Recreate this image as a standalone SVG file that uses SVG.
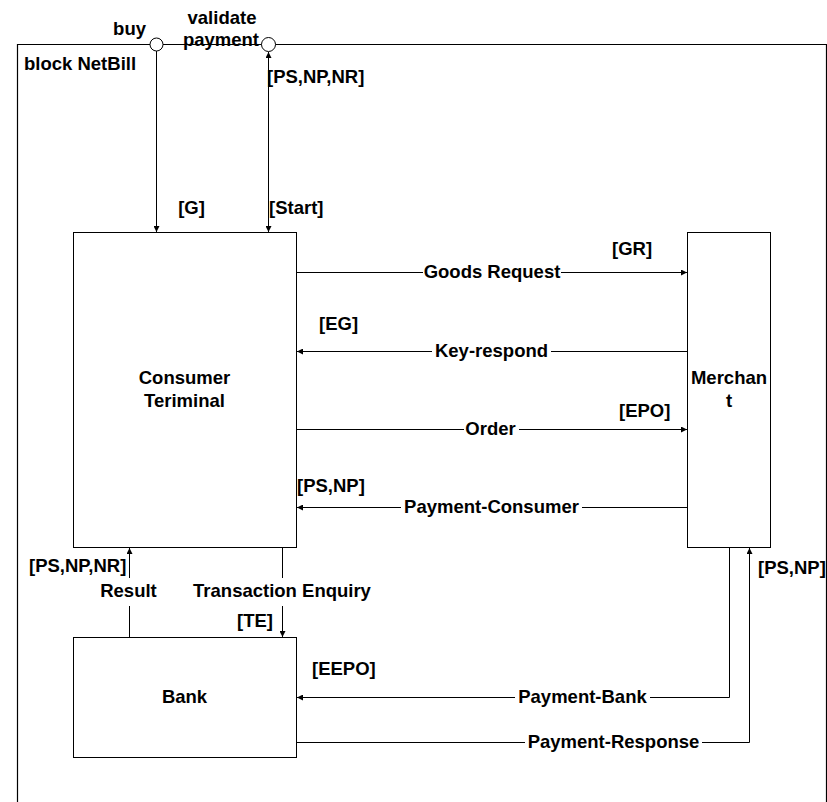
<svg xmlns="http://www.w3.org/2000/svg" width="827" height="802" viewBox="0 0 827 802">
<defs>
<marker id="arr" markerUnits="userSpaceOnUse" markerWidth="7" markerHeight="6" refX="6" refY="3" orient="auto">
<path d="M0,0 L6,3 L0,6 z" fill="#000"/>
</marker>
<marker id="arrs" markerUnits="userSpaceOnUse" markerWidth="7" markerHeight="6" refX="0" refY="3" orient="auto">
<path d="M6,0 L0,3 L6,6 z" fill="#000"/>
</marker>
<style>
text{font-family:"Liberation Sans",Arial,Helvetica,sans-serif;font-weight:bold;font-size:18.5px;fill:#000}
.m{text-anchor:middle}
.box{fill:#fff;stroke:#000;stroke-width:1}
.c{fill:none;stroke:#000;stroke-width:1}
.a{marker-end:url(#arr)}
.port{fill:#fff;stroke:#000;stroke-width:1}
</style>
</defs>
<rect width="827" height="802" fill="#fff"/>
<g id="netbill-block">
<path d="M17.5,802 V44.5 H826.5 V802" fill="none" stroke="#000" stroke-width="1.2"/>
<text x="24" y="70">block NetBill</text>
</g>
<g id="port-buy">
<circle class="port" cx="156.5" cy="44.5" r="6.5"/>
<text x="146" y="35" text-anchor="end">buy</text>
</g>
<g id="port-validate">
<circle class="port" cx="268.5" cy="44.5" r="7"/>
<text class="m" x="222" y="24">validate</text>
<text class="m" x="221" y="46">payment</text>
</g>
<g id="consumer-terminal">
<rect class="box" x="73.5" y="232.5" width="223" height="315"/>
<text class="m" x="184.5" y="384">Consumer</text>
<text class="m" x="184.5" y="407">Teriminal</text>
</g>
<g id="merchant">
<rect class="box" x="687.5" y="232.5" width="83" height="315"/>
<text class="m" x="729" y="384">Merchan</text>
<text class="m" x="729" y="407">t</text>
</g>
<g id="bank">
<rect class="box" x="73.5" y="637.5" width="223" height="120"/>
<text class="m" x="184.5" y="703">Bank</text>
</g>
<g id="connectors">
<path class="c a" d="M156.5,51 V232"/>
<text class="m" x="191.5" y="214">[G]</text>
<path class="c a" d="M268.5,52 V232" style="marker-start:url(#arrs)"/>
<text x="267" y="83">[PS,NP,NR]</text>
<text x="269" y="214">[Start]</text>
<path class="c" d="M297,272.5 H423"/>
<path class="c a" d="M561,272.5 H687"/>
<text class="m" x="492" y="278">Goods Request</text>
<text x="612" y="255">[GR]</text>
<path class="c" d="M687,351.5 H551"/>
<path class="c a" d="M432,351.5 H297"/>
<text class="m" x="491.5" y="357">Key-respond</text>
<text x="319" y="330">[EG]</text>
<path class="c" d="M297,429.5 H464"/>
<path class="c a" d="M519,429.5 H687"/>
<text class="m" x="490.5" y="435">Order</text>
<text x="619" y="417">[EPO]</text>
<path class="c" d="M687,507.5 H582"/>
<path class="c a" d="M401,507.5 H297"/>
<text class="m" x="491.5" y="513">Payment-Consumer</text>
<text x="297" y="492">[PS,NP]</text>
<path class="c" d="M129.5,637 V606"/>
<path class="c a" d="M129.5,578 V548"/>
<text class="m" x="128.5" y="597">Result</text>
<text x="29" y="572">[PS,NP,NR]</text>
<path class="c" d="M282.5,548 V578"/>
<path class="c a" d="M282.5,606 V637"/>
<text class="m" x="282" y="597">Transaction Enquiry</text>
<text x="237" y="627">[TE]</text>
<path class="c" d="M729.5,548 V697.5 H650"/>
<path class="c a" d="M515,697.5 H297"/>
<text class="m" x="582.5" y="703">Payment-Bank</text>
<text x="312" y="675">[EEPO]</text>
<path class="c" d="M297,742.5 H525"/>
<path class="c a" d="M702,742.5 H749.5 V548"/>
<text class="m" x="613.5" y="748">Payment-Response</text>
<text x="758" y="574">[PS,NP]</text>
</g>
</svg>
